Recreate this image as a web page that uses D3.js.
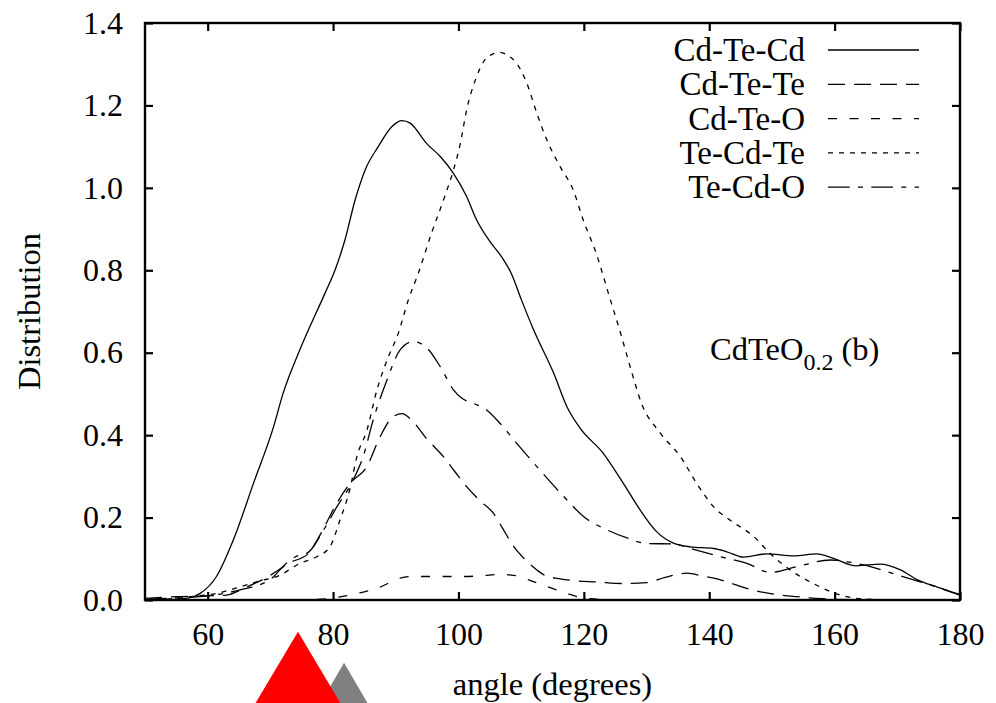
<!DOCTYPE html>
<html>
<head>
  <title>Angle distribution</title>
  <script src="https://cdn.jsdelivr.net/npm/d3@7"></script>
  <style>
    body { margin: 0; background: #fff; }
  </style>
</head>
<body>
  <svg width="996" height="703" id="mainsvg"></svg>
  <script>
    // series: [angle, distribution]
    const cdTeCd = [[50,0],[54,0.001],[57,0.005],[58.8,0.016],[61.4,0.057],[64.1,0.146],[67.3,0.283],[70.5,0.42],[72,0.5],[74.7,0.607],
      [78.7,0.744],[80.3,0.8],[81.9,0.874],[83.5,0.97],[85.1,1.043],[87.2,1.1],[89.4,1.149],[91,1.163],[92.3,1.157],[94.9,1.108],
      [97.1,1.076],[99.2,1.035],[101.3,0.979],[102.9,0.922],[105,0.87],[107,0.83],[108.5,0.79],[110,0.73],[112,0.655],[115.2,0.55],
      [117.3,0.469],[119.4,0.417],[123.1,0.356],[126.3,0.283],[129,0.218],[131.6,0.166],[134.3,0.138],[137,0.129],[140.7,0.125],
      [142.8,0.117],[145.5,0.104],[149.2,0.112],[153.5,0.107],[157.2,0.112],[159.8,0.101],[163.5,0.083],[167.3,0.087],[170.5,0.073],
      [173.2,0.049],[176.3,0.032],[179,0.018],[180,0.014]];
    const cdTeTe = [[50,0.004],[55,0.008],[60,0.01],[63,0.012],[66,0.03],[70,0.06],[73,0.09],[76,0.112],[78,0.16],[80.6,0.235],
      [82.7,0.283],[85.4,0.324],[87.5,0.396],[89.6,0.445],[91,0.452],[92.3,0.44],[95,0.39],[97.6,0.348],[99.5,0.31],[101.3,0.275],
      [103.5,0.24],[105.6,0.21],[107,0.175],[108.8,0.13],[110.5,0.1],[112.5,0.073],[114,0.058],[116,0.052],[119,0.046],[122,0.044],
      [126,0.04],[130,0.042],[133,0.055],[136.4,0.065],[139,0.058],[141.8,0.049],[144,0.038],[147,0.024],[150,0.015],[154,0.008],
      [158,0.003],[162,0.001],[170,0],[180,0]];
    const cdTeO = [[50,0],[60,0],[70,0],[78,0.002],[80,0.005],[82.7,0.012],[85,0.02],[87,0.028],[89,0.042],[90.7,0.053],[92.8,0.057],
      [96,0.057],[100.3,0.057],[103,0.058],[106.6,0.062],[108,0.061],[109.8,0.057],[111.5,0.047],[113.5,0.036],[115.5,0.025],
      [117.3,0.016],[119,0.008],[121,0.003],[125,0],[180,0]];
    const teCdTe = [[50,0],[55,0.004],[57.2,0.008],[61.4,0.016],[65.2,0.032],[68,0.045],[71.5,0.06],[74.7,0.089],[77.4,0.105],
      [79.5,0.129],[81.1,0.194],[82.7,0.27],[83.8,0.348],[85.4,0.412],[87,0.51],[88.6,0.582],[90.4,0.647],[92,0.728],[93.6,0.793],
      [95.7,0.89],[97.9,0.983],[99.2,1.043],[100.3,1.108],[101.3,1.189],[102.7,1.262],[104,1.306],[105.5,1.325],[106.6,1.329],
      [108,1.32],[109.3,1.302],[110.9,1.254],[112.5,1.181],[114.1,1.116],[116.2,1.052],[118.3,0.995],[119.9,0.922],[122,0.84],
      [124,0.74],[126,0.64],[127.5,0.56],[129.2,0.477],[132.2,0.405],[135.4,0.348],[138,0.283],[140.7,0.226],[143.3,0.194],
      [147.1,0.154],[149.7,0.113],[152.9,0.073],[156.6,0.04],[160.9,0.012],[165,0.002],[170,0],[180,0]];
    const teCdO = [[50,0.002],[55,0.005],[60,0.01],[65,0.024],[70,0.05],[72.6,0.09],[74,0.105],[76,0.115],[78.5,0.17],[80.6,0.226],
      [83.2,0.291],[84.8,0.348],[86.4,0.437],[88.6,0.534],[90.7,0.607],[92.8,0.627],[95,0.611],[97.1,0.566],[99.2,0.51],[100.5,0.49],
      [102.4,0.477],[104.5,0.461],[106.6,0.429],[109.3,0.38],[113,0.315],[116.8,0.251],[120,0.202],[123.7,0.17],[127,0.15],
      [130,0.137],[134.3,0.136],[137,0.125],[141.8,0.105],[146,0.089],[149.7,0.067],[154,0.081],[159.3,0.097],[164.6,0.085],
      [170,0.061],[175.3,0.036],[180,0.012]];

    const seriesNames = ['Cd-Te-Cd', 'Cd-Te-Te', 'Cd-Te-O', 'Te-Cd-Te', 'Te-Cd-O'];
    const seriesData = [cdTeCd, cdTeTe, cdTeO, teCdTe, teCdO];
    const dashes = ['none', '17,9', '9,12.5', '5,6', '21.7,8.3,5,8.3'];

    const xTicks = [60, 80, 100, 120, 140, 160, 180];
    const yTicks = [0, 0.2, 0.4, 0.6, 0.8, 1.0, 1.2, 1.4];

    const svg = d3.select('#mainsvg');
    const margin = { top: 23, right: 36, bottom: 103, left: 145 };
    const width = +svg.attr('width');
    const height = +svg.attr('height');
    const innerWidth = width - margin.left - margin.right;
    const innerHeight = height - margin.top - margin.bottom;
    const serif = '"Liberation Serif"';

    const x = d3.scaleLinear().domain([50, 180]).range([margin.left, margin.left + innerWidth]);
    const y = d3.scaleLinear().domain([0, 1.4]).range([margin.top + innerHeight, margin.top]);

    // triangles under the axis
    const tri = (cx, top, half) => `M${x(cx)},${top}L${x(cx) - half},${height + 1}L${x(cx) + half},${height + 1}Z`;
    svg.append('path').attr('d', tri(81.75, 662.7, 24)).attr('fill', '#808080');
    svg.append('path').attr('d', tri(74.4, 631.7, 43)).attr('fill', '#ff0000');

    // curves
    const line = d3.line().x(d => x(d[0])).y(d => y(d[1])).curve(d3.curveMonotoneX);
    svg.append('g').selectAll('path').data(seriesData).join('path')
      .attr('fill', 'none')
      .attr('stroke', '#000')
      .attr('stroke-width', 1.3)
      .attr('stroke-dasharray', (d, i) => dashes[i])
      .attr('d', line);

    // axes (ticks inward on all four sides)
    const tl = 8;
    const axisG = svg.append('g');
    axisG.append('g').attr('transform', `translate(0,${y(0)})`)
      .call(d3.axisBottom(x).tickValues(xTicks).tickSize(-tl).tickPadding(22).tickFormat(d3.format('d')));
    axisG.append('g').attr('transform', `translate(0,${y(1.4)})`)
      .call(d3.axisTop(x).tickValues(xTicks).tickSize(-tl).tickFormat(''));
    axisG.append('g').attr('transform', `translate(${x(50)},0)`)
      .call(d3.axisLeft(y).tickValues(yTicks).tickSize(-tl).tickPadding(22).tickFormat(d3.format('.1f')));
    axisG.append('g').attr('transform', `translate(${x(180)},0)`)
      .call(d3.axisRight(y).tickValues(yTicks).tickSize(-tl).tickFormat(''));
    axisG.selectAll('.domain').remove();
    axisG.selectAll('g').attr('font-family', serif).attr('font-size', 32);
    axisG.selectAll('.tick line').attr('stroke', '#000').attr('stroke-width', 2.2);
    axisG.selectAll('.tick text').attr('fill', '#000');

    svg.append('rect')
      .attr('x', x(50)).attr('y', y(1.4))
      .attr('width', x(180) - x(50)).attr('height', y(0) - y(1.4))
      .attr('fill', 'none').attr('stroke', '#000').attr('stroke-width', 2.4);

    // axis titles
    svg.append('text')
      .attr('x', (x(50) + x(180)) / 2).attr('y', 695)
      .attr('text-anchor', 'middle').attr('font-family', serif).attr('font-size', 32.5)
      .text('angle (degrees)');
    svg.append('text')
      .attr('transform', `translate(40,${(y(0) + y(1.4)) / 2}) rotate(-90)`)
      .attr('text-anchor', 'middle').attr('font-family', serif).attr('font-size', 32.5)
      .text('Distribution');

    // legend
    const legend = svg.append('g').selectAll('g').data(seriesNames).join('g')
      .attr('transform', (d, i) => `translate(0,${50 + i * 34.3})`);
    legend.append('text')
      .attr('x', 805).attr('y', 11)
      .attr('text-anchor', 'end').attr('font-family', serif).attr('font-size', 33)
      .text(d => d);
    legend.append('line')
      .attr('x1', 828).attr('x2', 919).attr('y1', 0).attr('y2', 0)
      .attr('stroke', '#000').attr('stroke-width', 1.3)
      .attr('stroke-dasharray', (d, i) => dashes[i]);

    // annotation
    const note = svg.append('text').attr('x', 710).attr('y', 360)
      .attr('font-family', serif).attr('font-size', 32.5);
    note.append('tspan').text('CdTeO');
    note.append('tspan').attr('dy', 10).attr('font-size', 24).text('0.2');
    note.append('tspan').attr('dy', -10).text(' (b)');
  </script>
</body>
</html>
